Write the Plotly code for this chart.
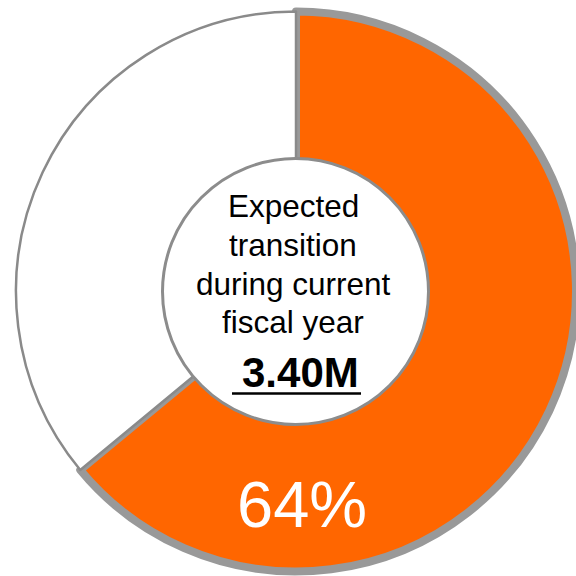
import plotly.graph_objects as go

# Share of the annual transition already expected vs. the remainder
categories = ["Expected transition", "Remaining"]
shares = [64, 36]
slice_colors = ["#FF6600", "#FFFFFF"]
slice_outline_colors = ["#999999", "#8A8A8A"]
slice_outline_widths = [8, 2.5]

# Caption inside the ring
caption_lines = ["Expected", "transition", "during current", "fiscal year"]
expected_total = "3.40M"

W = H = 576
FONT = "Liberation Sans, Arial, sans-serif"

# Ring geometry in pixels (centre and outer radius)
cx, cy, r_outer = 296.0, 291.5, 280.0
r_center = 133.0


def px_x(x):
    return x / W


def px_y(y):
    return (H - y) / H


fig = go.Figure()
fig.add_trace(
    go.Pie(
        labels=categories,
        values=shares,
        sort=False,
        direction="clockwise",
        rotation=0,
        hole=0.45,
        marker=dict(
            colors=slice_colors,
            line=dict(color=slice_outline_colors, width=slice_outline_widths),
        ),
        textinfo="none",
        hoverinfo="label+percent",
        showlegend=False,
        domain=dict(
            x=[px_x(cx - r_outer), min(1.0, px_x(cx + r_outer))],
            y=[px_y(cy + r_outer), px_y(cy - r_outer)],
        ),
    )
)

# White centre disc with a grey rim
fig.add_shape(
    type="circle",
    xref="paper", yref="paper",
    x0=px_x(295.5 - r_center), x1=px_x(295.5 + r_center),
    y0=px_y(291.5 + r_center), y1=px_y(291.5 - r_center),
    fillcolor="white",
    line=dict(color="#8C8C8C", width=3),
    layer="above",
)

annotations = []


def add_text(text, x, baseline, size, color="black", bold=False):
    # place a single line so that its baseline lands on the given pixel row
    mid = baseline - 0.3465 * size
    annotations.append(
        dict(
            text=f"<b>{text}</b>" if bold else text,
            xref="paper", yref="paper",
            x=px_x(x), y=px_y(mid),
            xanchor="center", yanchor="middle",
            showarrow=False,
            font=dict(family=FONT, size=size, color=color),
        )
    )


baselines = [217, 256, 294.5, 332.5]
for line, base in zip(caption_lines, baselines):
    add_text(line, 293, base, 31.5)

add_text(expected_total, 300, 387, 42, bold=True)

# Underline beneath the total
fig.add_shape(
    type="line",
    xref="paper", yref="paper",
    x0=px_x(232), x1=px_x(361),
    y0=px_y(393.5), y1=px_y(393.5),
    line=dict(color="black", width=2.5),
    layer="above",
)

# Percentage of the highlighted slice
share_pct = shares[0] / sum(shares)
add_text(f"{share_pct:.0%}", 302, 527, 65, color="white")

fig.update_layout(
    width=W,
    height=H,
    margin=dict(l=0, r=0, t=0, b=0),
    paper_bgcolor="white",
    plot_bgcolor="white",
    annotations=annotations,
)

fig.write_html("out.html")
